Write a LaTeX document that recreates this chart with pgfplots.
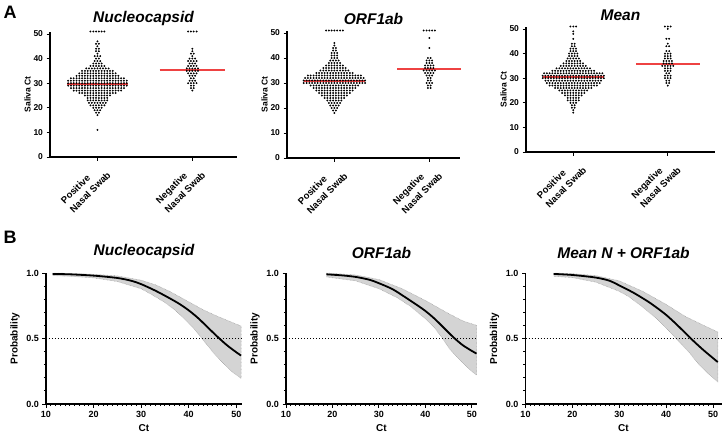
\documentclass[border=0pt]{standalone}
\usepackage{fontspec}
\setmainfont{Liberation Sans}
\usepackage{pgfplots}
\pgfplotsset{compat=1.18}
\definecolor{meanred}{RGB}{238,66,66}
\definecolor{ciband}{RGB}{212,212,212}

\pgfplotsset{
  common/.style={
    scale only axis, anchor=south west, clip=false,
    axis x line*=bottom, axis y line*=left,
    axis line style={line width=1.1pt, black},
    tick align=outside, major tick length=3.5pt, minor tick length=2.2pt,
    tick style={line width=0.9pt, black},
  },
  swarm/.style={common,
    xmin=-34, ymin=0, ymax=51,
    ytick={0,10,20,30,40,50}, yticklabels={0,10,20,30,40,50},
    xtick={0,68},
    xticklabels={{Positive\\Nasal Swab},{Negative\\Nasal Swab}},
    x tick label style={rotate=45, anchor=north east, align=left,
      font=\fontsize{9.5}{12.5}\selectfont\bfseries, inner sep=1pt},
    y tick label style={font=\fontsize{8.5}{10}\selectfont\bfseries},
    ylabel={Saliva Ct},
    ylabel style={font=\fontsize{8.5}{10}\selectfont\bfseries, yshift=-4pt},
    title style={font=\fontsize{15.5}{18}\selectfont\bfseries\itshape, yshift=-4pt},
  },
  prob/.style={common,
    xmin=10, ymin=0, ymax=1, height=131pt,
    xtick={10,20,30,40,50}, xticklabels={10,20,30,40,50},
    ytick={0,0.5,1}, yticklabels={0.0,0.5,1.0},
    minor x tick num=9, minor y tick num=4,
    tick label style={font=\fontsize{9}{10}\selectfont\bfseries},
    xlabel={Ct}, ylabel={Probability},
    label style={font=\fontsize{10}{12}\selectfont\bfseries},
    title style={font=\fontsize{15.5}{18}\selectfont\bfseries\itshape, yshift=5pt},
  },
  dots/.style={only marks, mark=*, mark size=0.72pt, black},
  avg/.style={meanred, line width=1.8pt},
  band/.style={fill=ciband, draw=gray!75, dash pattern={on 0.6pt off 0.8pt}, line width=0.5pt},
  fit/.style={black, line width=1.8pt, smooth},
  half/.style={black, line width=0.8pt, dash pattern={on 0.9pt off 2.1pt}},
}

\begin{document}
\begin{tikzpicture}
\useasboundingbox (0pt,0pt) rectangle (723pt,-439pt);
\node[font=\fontsize{18}{20}\selectfont\bfseries] at (10pt,-12pt) {A};
\node[font=\fontsize{18}{20}\selectfont\bfseries] at (10pt,-237pt) {B};

% ---------- A: Nucleocapsid
\begin{axis}[swarm, at={(50pt,-157pt)}, width=187pt, height=125.5pt, xmax=100,
  title={Nucleocapsid}]
\addplot[dots] coordinates {
(-5,51)(-3,51)(-1,51)(1,51)(3,51)(5,51)
(0,47)(-1,46)(1,46)(0,45)(-1,44)(1,44)(-1,43)(1,43)(0,42)
(-2,41)(0,41)(2,41)(-1,40)(1,40)(-2,39)(0,39)(2,39)
(-3,38)(-1,38)(1,38)(3,38)
(-5,37)(-3,37)(-1,37)(1,37)(3,37)(5,37)
(-8,36)(-6,36)(-4,36)(-2,36)(0,36)(2,36)(4,36)(6,36)(8,36)
(-11,35)(-9,35)(-7,35)(-5,35)(-3,35)(-1,35)(1,35)(3,35)(5,35)(7,35)(9,35)(11,35)
(-13,34)(-11,34)(-9,34)(-7,34)(-5,34)(-3,34)(-1,34)(1,34)(3,34)(5,34)(7,34)(9,34)(11,34)(13,34)
(-15,33)(-13,33)(-11,33)(-9,33)(-7,33)(-5,33)(-3,33)(-1,33)(1,33)(3,33)(5,33)(7,33)(9,33)(11,33)(13,33)(15,33)
(-19,32)(-17,32)(-15,32)(-13,32)(-11,32)(-9,32)(-7,32)(-5,32)(-3,32)(-1,32)(1,32)(3,32)(5,32)(7,32)(9,32)(11,32)(13,32)(15,32)(17,32)(19,32)
(-21,31)(-19,31)(-17,31)(-15,31)(-13,31)(-11,31)(-9,31)(-7,31)(-5,31)(-3,31)(-1,31)(1,31)(3,31)(5,31)(7,31)(9,31)(11,31)(13,31)(15,31)(17,31)(19,31)(21,31)
(-21,30)(-19,30)(-17,30)(-15,30)(-13,30)(-11,30)(-9,30)(-7,30)(-5,30)(-3,30)(-1,30)(1,30)(3,30)(5,30)(7,30)(9,30)(11,30)(13,30)(15,30)(17,30)(19,30)(21,30)
(-21,29)(-19,29)(-17,29)(-15,29)(-13,29)(-11,29)(-9,29)(-7,29)(-5,29)(-3,29)(-1,29)(1,29)(3,29)(5,29)(7,29)(9,29)(11,29)(13,29)(15,29)(17,29)(19,29)(21,29)
(-19,28)(-17,28)(-15,28)(-13,28)(-11,28)(-9,28)(-7,28)(-5,28)(-3,28)(-1,28)(1,28)(3,28)(5,28)(7,28)(9,28)(11,28)(13,28)(15,28)(17,28)(19,28)
(-17,27)(-15,27)(-13,27)(-11,27)(-9,27)(-7,27)(-5,27)(-3,27)(-1,27)(1,27)(3,27)(5,27)(7,27)(9,27)(11,27)(13,27)(15,27)(17,27)
(-13,26)(-11,26)(-9,26)(-7,26)(-5,26)(-3,26)(-1,26)(1,26)(3,26)(5,26)(7,26)(9,26)(11,26)(13,26)
(-9,25)(-7,25)(-5,25)(-3,25)(-1,25)(1,25)(3,25)(5,25)(7,25)(9,25)
(-7,24)(-5,24)(-3,24)(-1,24)(1,24)(3,24)(5,24)(7,24)
(-7,23)(-5,23)(-3,23)(-1,23)(1,23)(3,23)(5,23)(7,23)
(-6,22)(-4,22)(-2,22)(0,22)(2,22)(4,22)(6,22)
(-5,21)(-3,21)(-1,21)(1,21)(3,21)(5,21)
(-3,20)(-1,20)(1,20)(3,20)
(-2,19)(0,19)(2,19)
(-1,18)(1,18)(0,17)(0,11)
};
\addplot[dots] coordinates {
(65,51)(67,51)(69,51)(71,51)
(68,44)(68,43)(67,42)(69,42)(68,41)
(66,40)(68,40)(70,40)
(65,39)(67,39)(69,39)(71,39)
(66,38)(68,38)(70,38)
(65,37)(67,37)(69,37)(71,37)
(64,36)(66,36)(68,36)(70,36)(72,36)
(64,35)(66,35)(68,35)(70,35)(72,35)
(65,34)(67,34)(69,34)(71,34)
(66,33)(68,33)(70,33)
(67,32)(69,32)
(66,31)(68,31)(70,31)
(65,30)(67,30)(69,30)(71,30)
(67,29)(69,29)(67,28)(69,28)(68,27)
};
\addplot[avg] coordinates {(-22,29.8)(22,29.8)};
\addplot[avg] coordinates {(44.5,35.2)(91.5,35.2)};
\end{axis}

% ---------- A: ORF1ab
\begin{axis}[swarm, at={(287pt,-158pt)}, width=173pt, height=127.5pt, xmax=90,
  title={ORF1ab}]
\addplot[dots] coordinates {
(-6,51)(-4,51)(-2,51)(0,51)(2,51)(4,51)(6,51)
(0,46)(0,45)(-1,44)(1,44)(-1,43)(1,43)
(-2,42)(0,42)(2,42)(-2,41)(0,41)(2,41)(-2,40)(0,40)(2,40)
(-3,39)(-1,39)(1,39)(3,39)
(-4,38)(-2,38)(0,38)(2,38)(4,38)
(-6,37)(-4,37)(-2,37)(0,37)(2,37)(4,37)(6,37)
(-8,36)(-6,36)(-4,36)(-2,36)(0,36)(2,36)(4,36)(6,36)(8,36)
(-10,35)(-8,35)(-6,35)(-4,35)(-2,35)(0,35)(2,35)(4,35)(6,35)(8,35)(10,35)
(-13,34)(-11,34)(-9,34)(-7,34)(-5,34)(-3,34)(-1,34)(1,34)(3,34)(5,34)(7,34)(9,34)(11,34)(13,34)
(-19,33)(-17,33)(-15,33)(-13,33)(-11,33)(-9,33)(-7,33)(-5,33)(-3,33)(-1,33)(1,33)(3,33)(5,33)(7,33)(9,33)(11,33)(13,33)(15,33)(17,33)(19,33)
(-21,32)(-19,32)(-17,32)(-15,32)(-13,32)(-11,32)(-9,32)(-7,32)(-5,32)(-3,32)(-1,32)(1,32)(3,32)(5,32)(7,32)(9,32)(11,32)(13,32)(15,32)(17,32)(19,32)(21,32)
(-22,31)(-20,31)(-18,31)(-16,31)(-14,31)(-12,31)(-10,31)(-8,31)(-6,31)(-4,31)(-2,31)(0,31)(2,31)(4,31)(6,31)(8,31)(10,31)(12,31)(14,31)(16,31)(18,31)(20,31)(22,31)
(-22,30)(-20,30)(-18,30)(-16,30)(-14,30)(-12,30)(-10,30)(-8,30)(-6,30)(-4,30)(-2,30)(0,30)(2,30)(4,30)(6,30)(8,30)(10,30)(12,30)(14,30)(16,30)(18,30)(20,30)(22,30)
(-17,29)(-15,29)(-13,29)(-11,29)(-9,29)(-7,29)(-5,29)(-3,29)(-1,29)(1,29)(3,29)(5,29)(7,29)(9,29)(11,29)(13,29)(15,29)(17,29)
(-15,28)(-13,28)(-11,28)(-9,28)(-7,28)(-5,28)(-3,28)(-1,28)(1,28)(3,28)(5,28)(7,28)(9,28)(11,28)(13,28)(15,28)
(-13,27)(-11,27)(-9,27)(-7,27)(-5,27)(-3,27)(-1,27)(1,27)(3,27)(5,27)(7,27)(9,27)(11,27)(13,27)
(-11,26)(-9,26)(-7,26)(-5,26)(-3,26)(-1,26)(1,26)(3,26)(5,26)(7,26)(9,26)(11,26)
(-9,25)(-7,25)(-5,25)(-3,25)(-1,25)(1,25)(3,25)(5,25)(7,25)(9,25)
(-7,24)(-5,24)(-3,24)(-1,24)(1,24)(3,24)(5,24)(7,24)
(-5,23)(-3,23)(-1,23)(1,23)(3,23)(5,23)
(-4,22)(-2,22)(0,22)(2,22)(4,22)
(-3,21)(-1,21)(1,21)(3,21)
(-2,20)(0,20)(2,20)
(-1,19)(1,19)(0,18)
};
\addplot[dots] coordinates {
(64,51)(66,51)(68,51)(70,51)(72,51)
(68,48)(68,44)
(67,40)(69,40)
(66,39)(68,39)(70,39)
(66,38)(68,38)(70,38)
(65,37)(67,37)(69,37)(71,37)
(65,36)(67,36)(69,36)(71,36)
(64,35)(66,35)(68,35)(70,35)(72,35)
(65,34)(67,34)(69,34)(71,34)
(66,33)(68,33)(70,33)
(67,32)(69,32)(67,31)(69,31)
(66,30)(68,30)(70,30)
(67,29)(69,29)(67,28)(69,28)
};
\addplot[avg] coordinates {(-22,30.8)(22,30.8)};
\addplot[avg] coordinates {(45,35.6)(91,35.6)};
\end{axis}

% ---------- A: Mean
\begin{axis}[swarm, at={(526pt,-152pt)}, width=189pt, height=125.5pt, xmax=102,
  title={Mean}]
\addplot[dots] coordinates {
(-2,51)(0,51)(2,51)
(0,49)(0,48)(0,46)(-1,44)(1,44)(-1,43)(1,43)
(-2,42)(0,42)(2,42)(-2,41)(0,41)(2,41)
(-3,40)(-1,40)(1,40)(3,40)
(-3,39)(-1,39)(1,39)(3,39)
(-4,38)(-2,38)(0,38)(2,38)(4,38)
(-5,37)(-3,37)(-1,37)(1,37)(3,37)(5,37)
(-7,36)(-5,36)(-3,36)(-1,36)(1,36)(3,36)(5,36)(7,36)
(-9,35)(-7,35)(-5,35)(-3,35)(-1,35)(1,35)(3,35)(5,35)(7,35)(9,35)
(-12,34)(-10,34)(-8,34)(-6,34)(-4,34)(-2,34)(0,34)(2,34)(4,34)(6,34)(8,34)(10,34)(12,34)
(-15,33)(-13,33)(-11,33)(-9,33)(-7,33)(-5,33)(-3,33)(-1,33)(1,33)(3,33)(5,33)(7,33)(9,33)(11,33)(13,33)(15,33)
(-21,32)(-19,32)(-17,32)(-15,32)(-13,32)(-11,32)(-9,32)(-7,32)(-5,32)(-3,32)(-1,32)(1,32)(3,32)(5,32)(7,32)(9,32)(11,32)(13,32)(15,32)(17,32)(19,32)(21,32)
(-22,31)(-20,31)(-18,31)(-16,31)(-14,31)(-12,31)(-10,31)(-8,31)(-6,31)(-4,31)(-2,31)(0,31)(2,31)(4,31)(6,31)(8,31)(10,31)(12,31)(14,31)(16,31)(18,31)(20,31)(22,31)
(-22,30)(-20,30)(-18,30)(-16,30)(-14,30)(-12,30)(-10,30)(-8,30)(-6,30)(-4,30)(-2,30)(0,30)(2,30)(4,30)(6,30)(8,30)(10,30)(12,30)(14,30)(16,30)(18,30)(20,30)(22,30)
(-20,29)(-18,29)(-16,29)(-14,29)(-12,29)(-10,29)(-8,29)(-6,29)(-4,29)(-2,29)(0,29)(2,29)(4,29)(6,29)(8,29)(10,29)(12,29)(14,29)(16,29)(18,29)(20,29)
(-19,28)(-17,28)(-15,28)(-13,28)(-11,28)(-9,28)(-7,28)(-5,28)(-3,28)(-1,28)(1,28)(3,28)(5,28)(7,28)(9,28)(11,28)(13,28)(15,28)(17,28)(19,28)
(-17,27)(-15,27)(-13,27)(-11,27)(-9,27)(-7,27)(-5,27)(-3,27)(-1,27)(1,27)(3,27)(5,27)(7,27)(9,27)(11,27)(13,27)(15,27)(17,27)
(-13,26)(-11,26)(-9,26)(-7,26)(-5,26)(-3,26)(-1,26)(1,26)(3,26)(5,26)(7,26)(9,26)(11,26)(13,26)
(-10,25)(-8,25)(-6,25)(-4,25)(-2,25)(0,25)(2,25)(4,25)(6,25)(8,25)(10,25)
(-8,24)(-6,24)(-4,24)(-2,24)(0,24)(2,24)(4,24)(6,24)(8,24)
(-6,23)(-4,23)(-2,23)(0,23)(2,23)(4,23)(6,23)
(-4,22)(-2,22)(0,22)(2,22)(4,22)
(-4,21)(-2,21)(0,21)(2,21)(4,21)
(-2,20)(0,20)(2,20)
(-1,19)(1,19)(-1,18)(1,18)(0,17)(0,16)
};
\addplot[dots] coordinates {
(66,51)(68,51)(70,51)
(68,50)(67,46)(69,46)(68,44)(67,43)(69,43)
(67,41)(69,41)
(66,40)(68,40)(70,40)
(66,39)(68,39)(70,39)
(66,38)(68,38)(70,38)
(65,37)(67,37)(69,37)(71,37)
(65,36)(67,36)(69,36)(71,36)
(64,35)(66,35)(68,35)(70,35)(72,35)
(66,34)(68,34)(70,34)
(66,33)(68,33)(70,33)
(67,32)(69,32)
(66,31)(68,31)(70,31)
(66,30)(68,30)(70,30)
(67,29)(69,29)(67,28)(69,28)(68,27)
};
\addplot[avg] coordinates {(-22,30.4)(22,30.4)};
\addplot[avg] coordinates {(45,35.8)(91,35.8)};
\end{axis}

% ---------- B: Nucleocapsid
\begin{axis}[prob, at={(46pt,-404pt)}, width=196pt, xmax=51.2, title={Nucleocapsid}]
\addplot[band] coordinates {
(11.4,1.0)(15,0.997)(20,0.99)(25,0.978)(30,0.945)(33,0.91)(36,0.86)(40,0.78)(43,0.72)(46,0.67)(49,0.625)(51,0.595)
(51,0.195)(49,0.25)(47,0.32)(45,0.40)(43,0.49)(41,0.58)(39,0.655)(37,0.72)(35,0.775)(32,0.84)(30,0.88)(25,0.935)(20,0.963)(15,0.975)(11.4,0.98)
};
\addplot[half] coordinates {(10,0.5)(51.2,0.5)};
\addplot[fit] coordinates {
(11.4,0.993)(15,0.99)(20,0.98)(25,0.962)(28,0.94)(30,0.915)(33,0.865)(36,0.807)(38,0.765)(40,0.715)(42,0.655)(44,0.585)(46,0.515)(48,0.45)(50,0.395)(51,0.37)
};
\end{axis}

% ---------- B: ORF1ab
\begin{axis}[prob, at={(286pt,-404pt)}, width=191pt, xmax=51.1, title={ORF1ab}]
\addplot[band] coordinates {
(18.7,1.0)(25,0.985)(30,0.95)(35,0.88)(40,0.79)(45,0.69)(48,0.635)(51,0.6)
(51,0.22)(49,0.28)(47,0.35)(45,0.43)(43.7,0.5)(42,0.58)(40,0.65)(37,0.74)(34,0.81)(30,0.88)(25,0.94)(18.7,0.97)
};
\addplot[half] coordinates {(10,0.5)(51.1,0.5)};
\addplot[fit] coordinates {
(18.7,0.99)(22,0.982)(25,0.97)(28,0.948)(30,0.922)(33,0.875)(36,0.807)(38,0.76)(40,0.71)(42,0.65)(44,0.58)(46,0.51)(48,0.45)(50,0.405)(51,0.385)
};
\end{axis}

% ---------- B: Mean N + ORF1ab
\begin{axis}[prob, at={(525.5pt,-404pt)}, width=196pt, xmax=51.8, title={Mean N + ORF1ab}]
\addplot[band] coordinates {
(16,1.0)(20,0.995)(25,0.98)(30,0.94)(35,0.86)(40,0.76)(44,0.67)(48,0.6)(51,0.55)
(51,0.17)(49,0.23)(47,0.3)(45,0.39)(42.1,0.5)(40,0.58)(38,0.65)(35,0.74)(32,0.82)(30,0.86)(25,0.93)(20,0.965)(16,0.975)
};
\addplot[half] coordinates {(10,0.5)(51.8,0.5)};
\addplot[fit] coordinates {
(16,0.993)(20,0.985)(25,0.965)(28,0.94)(30,0.905)(33,0.85)(36,0.785)(38,0.735)(40,0.68)(42,0.615)(44,0.545)(46,0.475)(48,0.41)(50,0.35)(51,0.32)
};
\end{axis}
\end{tikzpicture}
\end{document}
